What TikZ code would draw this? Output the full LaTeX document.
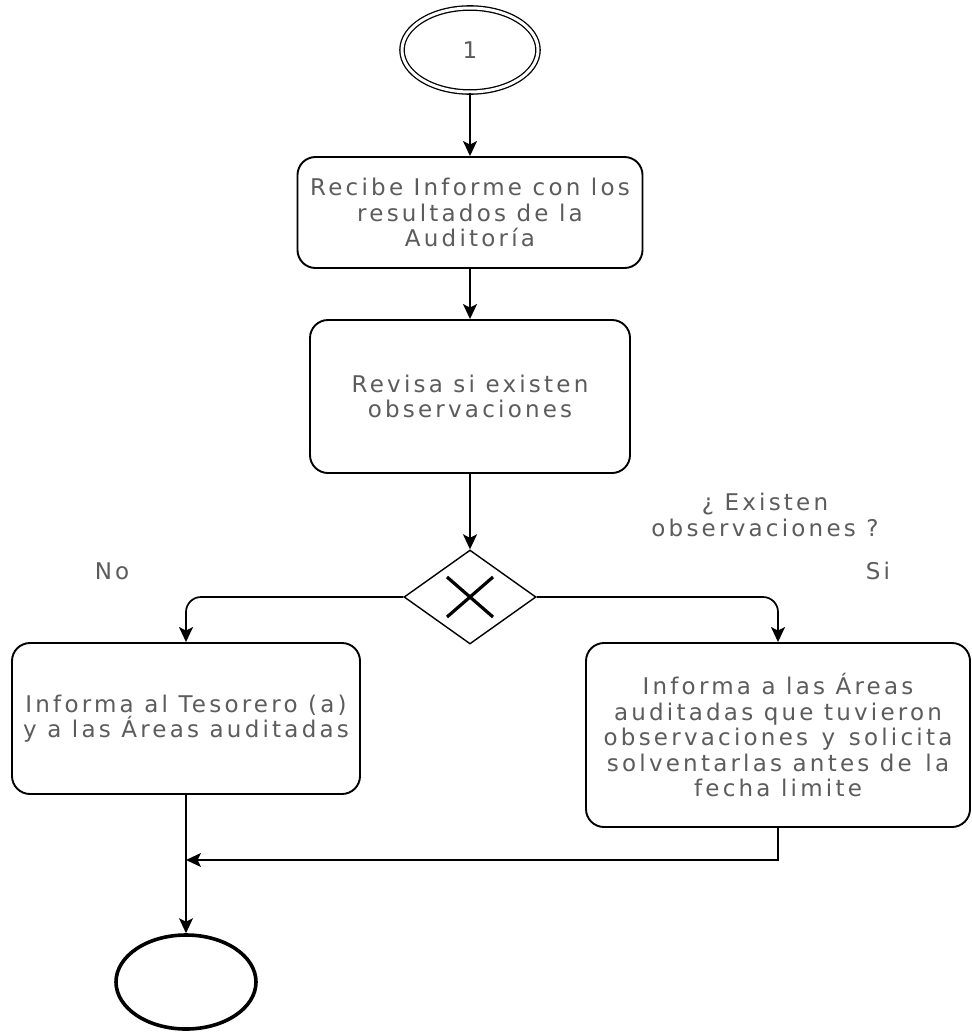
\documentclass[tikz,border=0pt]{standalone}
\usepackage{fontspec}
\newfontfamily\lblfont{DejaVu Sans}[LetterSpace=14]
\usetikzlibrary{shapes.geometric,arrows.meta}
\definecolor{txtgray}{gray}{0.36}
\begin{document}
\begin{tikzpicture}[x=1pt,y=-1pt,
  every node/.style={font=\lblfont\fontsize{23}{25.5}\selectfont, text=txtgray},
  procbox/.style={draw=black, line width=1.9pt, rounded corners=18pt, align=center, inner sep=2pt},
  arr/.style={draw=black, line width=1.7pt, -{Stealth[length=15pt,width=14pt,inset=3.5pt]}},
  lbl/.style={align=center, inner sep=0pt}
]
\useasboundingbox (0,0) rectangle (972,1034);
\fill[white] (0,0) rectangle (972,1034);

% start event
\node[draw=black, line width=1.3pt, double, double distance=3pt, ellipse,
      minimum width=136pt, minimum height=84pt] (start) at (470,50) {1};

% tasks
\node[procbox, minimum width=345pt, minimum height=111pt] (b1) at (470,212.5)
  {Recibe Informe con los\\resultados de la\\Auditoría};
\node[procbox, minimum width=320pt, minimum height=153pt] (b2) at (470,396.5)
  {Revisa si existen\\observaciones};

% gateway
\node[draw=black, line width=1.4pt, diamond, minimum width=132pt, minimum height=94pt, inner sep=0pt] (gw) at (470,597) {};
\draw[line width=3.2pt] ([shift={(-23,-20)}]gw.center) -- ([shift={(23,20)}]gw.center)
                      ([shift={(-23,20)}]gw.center) -- ([shift={(23,-20)}]gw.center);

\node[procbox, minimum width=348pt, minimum height=151pt] (lb) at (186,718.5)
  {Informa al Tesorero (a)\\y a las Áreas auditadas};
\node[procbox, minimum width=384pt, minimum height=184pt] (rb) at (778,735)
  {Informa a las Áreas\\auditadas que tuvieron\\observaciones\hspace{3pt} y\hspace{3pt} solicita\\solventarlas antes de\hspace{3pt} la\\fecha limite};

% end event
\node[draw=black, line width=3.6pt, ellipse, minimum width=140pt, minimum height=94pt] (end) at (186,982) {};

% labels
\node[lbl] (q) at (765,515) {¿ Existen\\observaciones ?};
\node[lbl] (no) at (112,571) {No};
\node[lbl] (si) at (878,571) {Si};

% connectors
\coordinate (j) at (186,860);
\draw[arr] (start) -- (b1);
\draw[arr] (b1) -- (b2);
\draw[arr] (b2) -- (gw.north);
\draw[arr, rounded corners=15pt] (gw.west) -| (lb.north);
\draw[arr, rounded corners=15pt] (gw.east) -| (rb.north);
\draw[arr] (lb.south) -- (end.north);
\draw[arr] (rb.south) |- (j);
\end{tikzpicture}
\end{document}
